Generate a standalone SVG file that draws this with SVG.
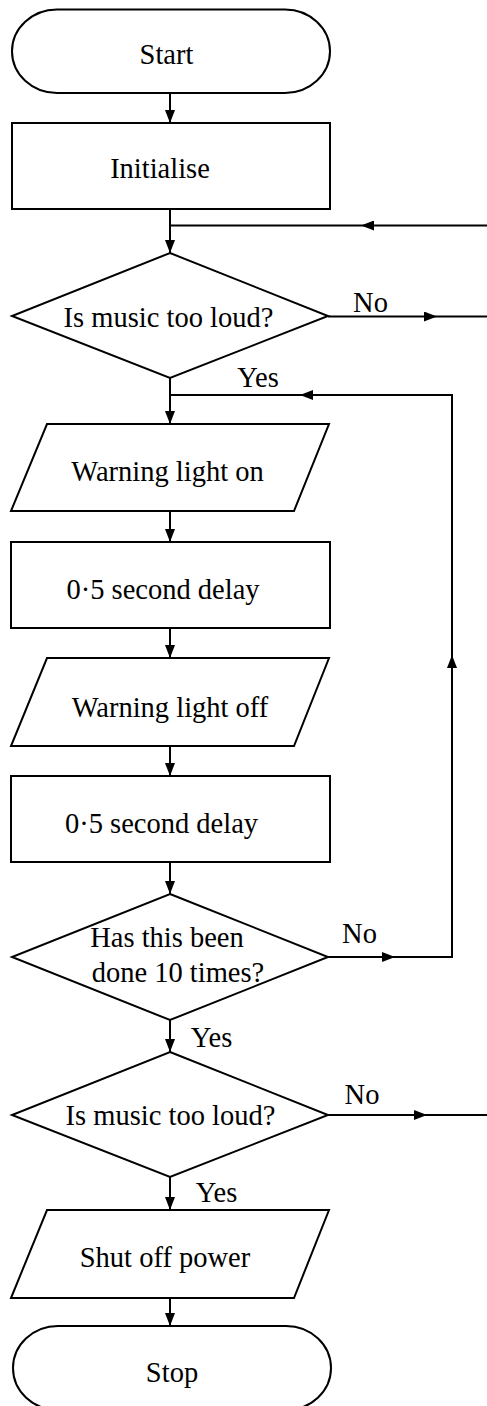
<svg xmlns="http://www.w3.org/2000/svg" width="487" height="1406" viewBox="0 0 487 1406">
<style>
.s{fill:#fff;stroke:#000;stroke-width:2;stroke-linejoin:miter}
.c{fill:none;stroke:#000;stroke-width:2}
.t{font-family:"Liberation Serif","Times New Roman",serif;font-size:28.5px;fill:#000;text-anchor:middle}
</style>
<defs>
<marker id="ah" markerUnits="userSpaceOnUse" markerWidth="13" markerHeight="10" refX="13" refY="5" orient="auto">
<path d="M0,0 L13,5 L0,10 z" fill="#000"/>
</marker>
</defs>
<rect width="487" height="1406" fill="#fff"/>
<g id="connectors">
<path class="c" d="M170,93 V123" marker-end="url(#ah)"/>
<path class="c" d="M170,209 V253" marker-end="url(#ah)"/>
<path class="c" d="M487,225.5 H361" marker-end="url(#ah)"/>
<path class="c" d="M361,225.5 H170"/>
<path class="c" d="M328,316.5 H437" marker-end="url(#ah)"/>
<path class="c" d="M437,316.5 H487"/>
<path class="c" d="M170,378 V424" marker-end="url(#ah)"/>
<path class="c" d="M328,957 H395" marker-end="url(#ah)"/>
<path class="c" d="M395,957 H452 V655"/>
<path class="c" d="M452,668 V655" marker-end="url(#ah)"/>
<path class="c" d="M452,655 V395 H300"/>
<path class="c" d="M313,395 H300" marker-end="url(#ah)"/>
<path class="c" d="M300,395 H170"/>
<path class="c" d="M170,511 V542" marker-end="url(#ah)"/>
<path class="c" d="M170,628 V658" marker-end="url(#ah)"/>
<path class="c" d="M170,746 V776" marker-end="url(#ah)"/>
<path class="c" d="M170,862 V894" marker-end="url(#ah)"/>
<path class="c" d="M170,1020 V1052" marker-end="url(#ah)"/>
<path class="c" d="M328,1115 H427" marker-end="url(#ah)"/>
<path class="c" d="M427,1115 H487"/>
<path class="c" d="M170,1177 V1210" marker-end="url(#ah)"/>
<path class="c" d="M170,1298 V1326" marker-end="url(#ah)"/>
<text class="t" x="370.5" y="312">No</text>
<text class="t" x="258" y="387">Yes</text>
<text class="t" x="359.5" y="943">No</text>
<text class="t" x="211.5" y="1047">Yes</text>
<text class="t" x="362" y="1104">No</text>
<text class="t" x="216.5" y="1202">Yes</text>
</g>
<g id="start">
<rect class="s" x="12" y="9.5" width="318" height="83.5" rx="45" ry="41.75"/>
<text class="t" x="166.5" y="64">Start</text>
</g>
<g id="initialise">
<rect class="s" x="12" y="123" width="318" height="86"/>
<text class="t" x="160" y="178">Initialise</text>
</g>
<g id="decision1">
<polygon class="s" points="170,253 328,316 170,378 12,316"/>
<text class="t" x="168.5" y="327">Is music too loud?</text>
</g>
<g id="warning-on">
<polygon class="s" points="47,424 329,424 294,511 11,511"/>
<text class="t" x="167.5" y="481">Warning light on</text>
</g>
<g id="delay1">
<rect class="s" x="11" y="542" width="319" height="86"/>
<text class="t" x="163" y="599">0·5 second delay</text>
</g>
<g id="warning-off">
<polygon class="s" points="47,658 329,658 294,746 11,746"/>
<text class="t" x="170" y="717">Warning light off</text>
</g>
<g id="delay2">
<rect class="s" x="11" y="776" width="319" height="86"/>
<text class="t" x="161.5" y="833">0·5 second delay</text>
</g>
<g id="decision2">
<polygon class="s" points="170,894 328,957 170,1020 12,957"/>
<text class="t" x="167" y="947">Has this been</text>
<text class="t" x="178" y="982">done 10 times?</text>
</g>
<g id="decision3">
<polygon class="s" points="170,1052 328,1115 170,1177 12,1115"/>
<text class="t" x="170.5" y="1125">Is music too loud?</text>
</g>
<g id="shutoff">
<polygon class="s" points="47,1210 329,1210 294,1298 11,1298"/>
<text class="t" x="165" y="1267">Shut off power</text>
</g>
<g id="stop">
<rect class="s" x="13" y="1326" width="318" height="84" rx="45" ry="42"/>
<text class="t" x="172" y="1382">Stop</text>
</g>
</svg>
